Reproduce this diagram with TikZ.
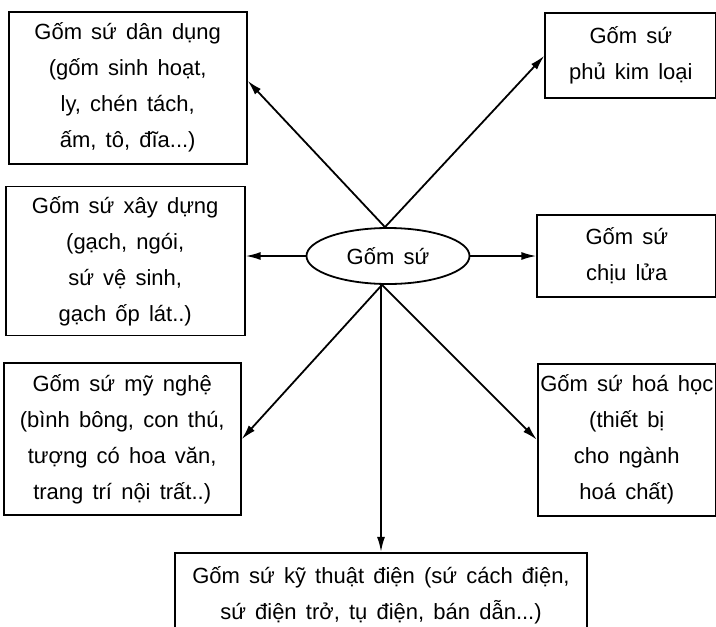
\documentclass[tikz,border=0pt]{standalone}
\usepackage{fontspec}
\setmainfont{Liberation Sans}[WordSpace=1.5]
\usetikzlibrary{arrows.meta,positioning,shapes.geometric}

\begin{document}
\begin{tikzpicture}[x=1pt, y=-1pt,
  box/.style={draw, line width=1.8pt, align=center, inner sep=0pt,
    font=\fontsize{22}{36}\selectfont},
  core/.style={ellipse, draw, line width=1.8pt, inner sep=0pt,
    minimum width=163pt, minimum height=56pt, font=\fontsize{22}{26}\selectfont},
  arr/.style={-{Latex[length=15pt, width=8pt]}, line width=1.8pt}]
\useasboundingbox (0,0) rectangle (716,627);
\node[core] (gom) at (388,256) {Gốm sứ};
\node[box, left=60pt of gom, yshift=-5pt, minimum width=239pt, minimum height=149pt] (xayDung)
  {Gốm sứ xây dựng\\(gạch, ngói,\\sứ vệ sinh,\\gạch ốp lát..)};
\node[box, above=21pt of xayDung, xshift=2.5pt, minimum width=238pt, minimum height=152pt] (danDung)
  {Gốm sứ dân dụng\\(gốm sinh hoạt,\\ly, chén tách,\\ấm, tô, đĩa...)};
\node[box, below=26pt of xayDung, xshift=-3pt, minimum width=237pt, minimum height=152pt] (myNghe)
  {Gốm sứ mỹ nghệ\\(bình bông, con thú,\\tượng có hoa văn,\\trang trí nội trất..)};
\node[box, right=66pt of gom, minimum width=179pt, minimum height=82pt] (chiuLua)
  {Gốm sứ\\chịu lửa};
\node[box, above=115pt of chiuLua, xshift=4pt, minimum width=171pt, minimum height=85pt] (phuKim)
  {Gốm sứ\\phủ kim loại};
\node[box, below=65pt of chiuLua, minimum width=178pt, minimum height=152pt] (hoaHoc)
  {Gốm sứ hoá học\\(thiết bị\\cho ngành\\hoá chất)};
\node[box, below=267pt of gom, xshift=-7pt, minimum width=412pt, minimum height=86pt] (kyThuat)
  {Gốm sứ kỹ thuật điện (sứ cách điện,\\sứ điện trở, tụ điện, bán dẫn...)};
\draw[arr] ([xshift=-3pt]gom.north) -- ([yshift=7pt]danDung.east);
\draw[arr] ([xshift=-3pt]gom.north) -- (phuKim.west);
\draw[arr] (gom.west) -- (gom.west -| xayDung.east);
\draw[arr] (gom.east) -- (gom.east -| chiuLua.west);
\draw[arr] ([xshift=-6pt]gom.south) -- (myNghe.east);
\draw[arr] ([xshift=-6pt]gom.south) -- (hoaHoc.west);
\draw[arr] (kyThuat.north |- gom.south) -- (kyThuat.north);
\end{tikzpicture}
\end{document}
